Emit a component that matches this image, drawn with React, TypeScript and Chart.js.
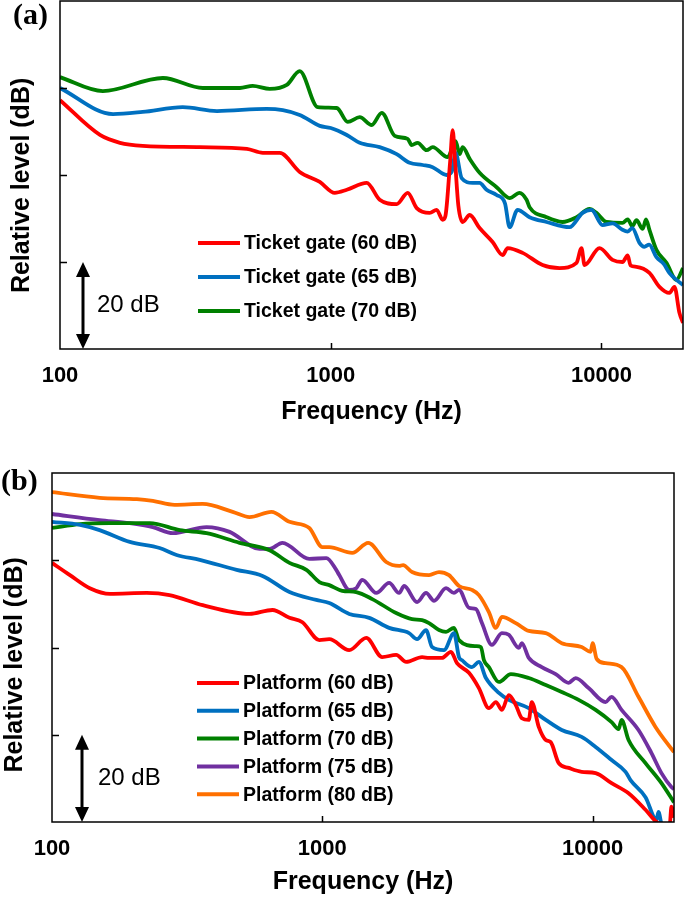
import React, { useEffect, useRef } from 'react';
import { Chart, registerables } from 'chart.js';

Chart.register(...registerables);

const FONT = '"Liberation Sans", Arial, Helvetica, sans-serif';

// ---------- axes ----------
const xTickValues = [100, 1000, 10000];
const xTickLabels = ['100', '1000', '10000'];
const yTickValues = [0, 20, 40, 60, 80];

// ---------- panel (a): ticket gate ----------
const gate60Freq = [100, 140.5, 166.5, 202, 329, 490, 561, 648, 768, 911, 1035, 1146, 1358, 1516, 1752, 1924, 2077, 2319, 2461, 2590, 2650, 2760, 2820, 2880, 2960, 3070, 3259, 3546, 3961, 4314, 4500, 5112, 6058, 6998, 8087, 8437, 8656, 9831, 10980, 11955, 12500, 12800, 13462, 15034, 16368, 17824, 18596, 19402, 20000];
const gate60Level = [57.2, 49.2, 47.4, 46.7, 46.4, 46.0, 45.1, 45.1, 40.7, 38.4, 35.9, 36.6, 38.2, 34.3, 33.3, 35.9, 32.4, 31.3, 32.0, 29.7, 30.5, 43.0, 50.3, 43.0, 33.0, 29.2, 30.8, 27.8, 24.6, 21.6, 23.2, 22.1, 19.3, 18.6, 19.8, 23.2, 19.3, 23.2, 20.5, 20.0, 21.5, 19.2, 18.9, 17.5, 14.3, 12.9, 14.3, 8.3, 6.0];

const gate65Freq = [100, 157, 202, 284, 380, 580, 665, 768, 911, 1000, 1146, 1279, 1516, 1752, 1956, 2185, 2379, 2679, 2796, 2892, 3044, 3342, 3546, 3763, 4098, 4400, 4577, 4898, 5425, 6266, 7618, 8510, 9186, 10085, 11000, 11955, 12500, 13000, 13808, 14400, 15000, 15955, 17000, 17800, 18913, 20000];
const gate65Level = [60.0, 54.0, 54.5, 55.6, 54.7, 55.2, 54.9, 53.8, 51.3, 50.8, 49.2, 47.4, 46.4, 44.8, 42.8, 42.3, 41.8, 40.0, 40.7, 45.1, 39.3, 38.2, 38.2, 36.6, 35.4, 33.5, 28.0, 32.0, 30.3, 29.2, 28.0, 31.3, 32.0, 28.5, 28.9, 27.4, 27.0, 27.8, 24.4, 23.5, 24.0, 21.1, 19.5, 17.5, 15.9, 14.7];

const gate70Freq = [100, 144, 240, 337, 462, 515, 595, 688, 768, 895, 1052, 1155, 1279, 1417, 1543, 1723, 1924, 1990, 2094, 2260, 2379, 2702, 2892, 2992, 3070, 3259, 3546, 4098, 4577, 4983, 5288, 5425, 6266, 7178, 8087, 9031, 9584, 10435, 11955, 12500, 13000, 13462, 14200, 14600, 15034, 15955, 17378, 18913, 20000];
const gate70Level = [62.5, 59.3, 62.3, 60.0, 60.0, 60.5, 59.8, 60.7, 63.9, 55.6, 55.4, 52.2, 53.3, 51.5, 54.3, 49.0, 48.3, 46.9, 47.4, 45.7, 46.4, 44.1, 47.8, 44.8, 46.4, 43.7, 40.5, 37.2, 34.7, 35.9, 34.3, 32.6, 30.3, 29.2, 30.3, 32.2, 31.3, 29.2, 29.0, 29.8, 28.2, 29.6, 27.6, 29.8, 27.4, 22.8, 19.8, 15.9, 18.6];

// ---------- panel (b): platform ----------
const plat60Freq = [100, 116.5, 138, 164, 224, 272, 361, 538, 654, 756, 844, 975, 1061, 1258, 1454, 1665, 1876, 2042, 2339, 2482, 2772, 2992, 3149, 3487, 3796, 4133, 4387, 4616, 4898, 5198, 5470, 5805, 5955, 6320, 6709, 6998, 7491, 8154, 9108, 10259, 11752, 13581, 15689, 17227, 18597, 19300, 19566, 20000];
const plat60Level = [59.4, 56.6, 53.6, 52.3, 52.5, 52.0, 49.7, 47.7, 48.6, 46.8, 45.8, 41.7, 41.9, 39.4, 42.2, 37.8, 38.3, 36.7, 37.8, 37.6, 37.6, 39.0, 36.4, 34.2, 30.7, 26.1, 27.5, 25.7, 29.1, 26.8, 23.8, 23.4, 27.5, 21.8, 18.8, 18.3, 13.5, 12.4, 11.5, 11.2, 8.9, 6.6, 2.8, 0.0, -1.0, -0.5, 3.5, 1.0];

const plat65Freq = [100, 127, 150, 194, 250, 289, 352, 482, 601, 756, 950, 1061, 1258, 1491, 1767, 2094, 2242, 2420, 2547, 2820, 3070, 3203, 3286, 3577, 3796, 4029, 4500, 4898, 5805, 6709, 7685, 9108, 10259, 11752, 13239, 13808, 15689, 17227, 17523, 17976, 18600];
const plat65Level = [68.8, 68.1, 66.9, 64.2, 62.8, 61.2, 60.1, 57.8, 56.4, 52.7, 50.9, 50.2, 47.7, 46.8, 44.5, 43.3, 41.9, 44.0, 40.1, 39.4, 43.3, 37.8, 37.1, 35.5, 36.7, 33.0, 29.6, 28.0, 26.1, 23.4, 21.1, 19.5, 17.2, 14.2, 11.5, 9.6, 5.7, 0.5, 2.3, -0.5, -3.0];

const plat70Freq = [100, 127, 164, 230, 297, 373, 494, 638, 756, 873, 975, 1061, 1185, 1335, 1530, 1876, 2148, 2339, 2482, 2702, 2869, 3070, 3203, 3701, 3862, 3961, 4133, 4500, 4983, 5805, 6709, 7685, 8878, 10259, 11752, 12473, 12794, 13581, 15689, 17976, 20000];
const plat70Level = [67.4, 68.3, 68.5, 68.5, 66.9, 66.2, 64.0, 62.3, 59.4, 57.8, 55.0, 54.3, 53.0, 52.7, 51.1, 47.9, 46.5, 46.3, 45.6, 44.0, 43.6, 44.5, 41.7, 40.3, 40.1, 37.1, 35.5, 32.1, 33.9, 33.0, 31.4, 29.8, 28.0, 25.7, 22.9, 21.3, 23.4, 18.8, 13.5, 8.9, 4.5];

const plat75Freq = [100, 150, 194, 236, 280, 373, 454, 586, 638, 712, 895, 1035, 1126, 1155, 1258, 1335, 1405, 1583, 1767, 1924, 2008, 2242, 2420, 2590, 2869, 3070, 3203, 3487, 3701, 3895, 4240, 4616, 4898, 5332, 5470, 5805, 6484, 7302, 8154, 8656, 9665, 11168, 11752, 12794, 14779, 16509, 17976, 19566, 20000];
const plat75Level = [70.6, 69.2, 68.5, 67.6, 66.2, 67.6, 66.5, 62.6, 62.6, 64.0, 60.3, 60.5, 57.8, 56.6, 53.2, 53.6, 55.5, 52.5, 54.8, 52.5, 54.1, 50.4, 52.5, 50.7, 53.6, 52.5, 53.2, 49.1, 48.8, 45.6, 40.6, 43.3, 42.9, 39.9, 41.0, 37.6, 35.5, 33.9, 31.9, 33.0, 30.7, 27.5, 28.7, 25.7, 21.1, 15.8, 11.2, 8.0, 7.5];

const plat80Freq = [100, 150, 206, 236, 284, 361, 466, 538, 648, 756, 895, 1000, 1061, 1290, 1478, 1723, 1924, 1990, 2148, 2482, 2702, 2942, 3203, 3577, 3796, 4133, 4387, 4616, 5198, 5805, 6709, 7685, 9108, 9831, 10000, 10347, 11168, 12794, 14779, 17082, 20000];
const plat80Level = [75.6, 74.3, 74.0, 73.6, 72.7, 72.9, 71.1, 69.9, 71.1, 68.8, 67.4, 63.0, 63.0, 61.7, 64.0, 59.6, 58.7, 58.9, 57.3, 56.6, 57.3, 56.6, 54.1, 53.2, 52.0, 48.1, 44.5, 47.0, 45.6, 43.8, 43.3, 41.0, 40.1, 39.0, 41.0, 37.4, 36.4, 35.5, 28.7, 21.8, 16.0];

const RED = '#ff0000';
const BLUE = '#0070c0';
const GREEN = '#008000';
const PURPLE = '#7030a0';
const ORANGE = '#ff7000';

type Series = { label: string; freq: number[]; level: number[]; color: string };

const seriesA: Series[] = [
  { label: 'Ticket gate (60 dB)', freq: gate60Freq, level: gate60Level, color: RED },
  { label: 'Ticket gate (65 dB)', freq: gate65Freq, level: gate65Level, color: BLUE },
  { label: 'Ticket gate (70 dB)', freq: gate70Freq, level: gate70Level, color: GREEN },
];
const seriesB: Series[] = [
  { label: 'Platform (60 dB)', freq: plat60Freq, level: plat60Level, color: RED },
  { label: 'Platform (65 dB)', freq: plat65Freq, level: plat65Level, color: BLUE },
  { label: 'Platform (70 dB)', freq: plat70Freq, level: plat70Level, color: GREEN },
  { label: 'Platform (75 dB)', freq: plat75Freq, level: plat75Level, color: PURPLE },
  { label: 'Platform (80 dB)', freq: plat80Freq, level: plat80Level, color: ORANGE },
];

const framePlugin = {
  id: 'frame',
  afterDatasetsDraw(chart: any, _args: any, opts: any) {
    const { ctx, chartArea: a, scales } = chart;
    const xs = scales.x;
    const ys = scales.y;
    ctx.save();
    // box
    ctx.strokeStyle = '#000';
    ctx.lineWidth = 1.5;
    ctx.strokeRect(a.left, a.top, a.right - a.left, a.bottom - a.top);
    // inner ticks
    ctx.beginPath();
    for (const v of yTickValues.slice(1, -1)) {
      const py = Math.round(ys.getPixelForValue(v)) + 0.5;
      ctx.moveTo(a.left, py);
      ctx.lineTo(a.left + 7, py);
    }
    for (const v of xTickValues.slice(1)) {
      const px = Math.round(xs.getPixelForValue(v)) + 0.5;
      ctx.moveTo(px, a.bottom);
      ctx.lineTo(px, a.bottom - 6);
    }
    ctx.stroke();

    // 20 dB arrow
    const ax = opts.arrowX;
    const yTop = ys.getPixelForValue(20);
    const yBot = ys.getPixelForValue(0);
    ctx.fillStyle = '#000';
    ctx.lineWidth = 3;
    ctx.beginPath();
    ctx.moveTo(ax, yTop + 10);
    ctx.lineTo(ax, yBot - 10);
    ctx.stroke();
    ctx.beginPath();
    ctx.moveTo(ax, yTop);
    ctx.lineTo(ax - 7, yTop + 15);
    ctx.lineTo(ax + 7, yTop + 15);
    ctx.closePath();
    ctx.fill();
    ctx.beginPath();
    ctx.moveTo(ax, yBot);
    ctx.lineTo(ax - 7, yBot - 15);
    ctx.lineTo(ax + 7, yBot - 15);
    ctx.closePath();
    ctx.fill();
    ctx.font = `24px ${FONT}`;
    ctx.textAlign = 'left';
    ctx.textBaseline = 'middle';
    ctx.fillText('20 dB', opts.labelX, ys.getPixelForValue(10));

    // legend
    const lg = opts.legend;
    ctx.font = `bold 19.5px ${FONT}`;
    chart.data.datasets.forEach((ds: any, i: number) => {
      const y = a.top + lg.y + i * lg.step;
      ctx.strokeStyle = ds.borderColor;
      ctx.lineWidth = 4;
      ctx.beginPath();
      ctx.moveTo(a.left + lg.x, y);
      ctx.lineTo(a.left + lg.x + 42, y);
      ctx.stroke();
      ctx.fillStyle = '#000';
      ctx.fillText(ds.label, a.left + lg.x + 46, y + 1);
    });
    ctx.restore();
  },
};

function makeConfig(p: {
  series: Series[];
  padTop: number;
  padRight: number;
  yWidth: number;
  xHeight: number;
  yTitle: string;
  yTitlePad: number;
  xTitlePad: number;
  legend: { x: number; y: number; step: number };
  arrowX: number;
  labelX: number;
}): any {
  return {
    type: 'line',
    data: {
      datasets: p.series.map((s) => ({
        label: s.label,
        data: s.freq.map((f, i) => ({ x: f, y: s.level[i] })),
        borderColor: s.color,
        backgroundColor: s.color,
        borderWidth: 3.8,
        pointRadius: 0,
        cubicInterpolationMode: 'monotone',
        fill: false,
      })),
    },
    options: {
      responsive: false,
      animation: false,
      devicePixelRatio: 1,
      layout: { padding: { top: p.padTop, right: p.padRight, left: 0, bottom: 0 } },
      plugins: {
        legend: { display: false },
        tooltip: { enabled: false },
        frame: { legend: p.legend, arrowX: p.arrowX, labelX: p.labelX },
      },
      scales: {
        x: {
          type: 'logarithmic',
          min: 100,
          max: 20000,
          afterBuildTicks: (s: any) => {
            s.ticks = xTickValues.map((v) => ({ value: v }));
          },
          afterFit: (s: any) => {
            s.height = p.xHeight;
          },
          ticks: {
            autoSkip: false,
            maxRotation: 0,
            padding: 14,
            color: '#000',
            font: { family: FONT, size: 22, weight: 'bold' },
            callback: (v: any) => {
              const i = xTickValues.indexOf(Number(v));
              return i >= 0 ? xTickLabels[i] : '';
            },
          },
          grid: { display: false, drawTicks: false },
          border: { display: false },
          title: {
            display: true,
            text: 'Frequency (Hz)',
            color: '#000',
            font: { family: FONT, size: 25, weight: 'bold' },
            padding: { top: 0, bottom: p.xTitlePad },
          },
        },
        y: {
          type: 'linear',
          min: 0,
          max: 80,
          afterBuildTicks: (s: any) => {
            s.ticks = yTickValues.map((v) => ({ value: v }));
          },
          afterFit: (s: any) => {
            s.width = p.yWidth;
          },
          ticks: { display: false },
          grid: { display: false, drawTicks: false },
          border: { display: false },
          title: {
            display: true,
            text: p.yTitle,
            color: '#000',
            font: { family: FONT, size: 25, weight: 'bold' },
            padding: { top: p.yTitlePad, bottom: 0 },
          },
        },
      },
    },
    plugins: [framePlugin],
  };
}

export default function App() {
  const refA = useRef<HTMLCanvasElement>(null);
  const refB = useRef<HTMLCanvasElement>(null);

  useEffect(() => {
    const chartA = new Chart(
      refA.current as HTMLCanvasElement,
      makeConfig({
        series: seriesA,
        padTop: 1,
        padRight: 2,
        yWidth: 60,
        xHeight: 91,
        yTitle: 'Relative level (dB)\u00a0\u00a0\u00a0',
        yTitlePad: 7,
        xTitlePad: 13,
        legend: { x: 138, y: 242, step: 34 },
        arrowX: 83,
        labelX: 97,
      })
    );
    const chartB = new Chart(
      refB.current as HTMLCanvasElement,
      makeConfig({
        series: seriesB,
        padTop: 13,
        padRight: 11,
        yWidth: 52,
        xHeight: 76,
        yTitle: 'Relative level (dB)\u00a0\u00a0\u00a0\u00a0\u00a0',
        yTitlePad: 0,
        xTitlePad: 1,
        legend: { x: 145, y: 210, step: 27.8 },
        arrowX: 82,
        labelX: 98,
      })
    );
    return () => {
      chartA.destroy();
      chartB.destroy();
    };
  }, []);

  const labelStyle: React.CSSProperties = {
    position: 'absolute',
    font: 'bold 30px "Liberation Serif", "Times New Roman", serif',
    color: '#000',
    lineHeight: '30px',
  };

  return (
    <div style={{ position: 'absolute', left: 0, top: 0, width: 685, height: 898, background: '#fff', overflow: 'hidden' }}>
      <canvas ref={refA} width={685} height={440} style={{ position: 'absolute', left: 0, top: 0, width: 685, height: 440 }} />
      <canvas ref={refB} width={685} height={438} style={{ position: 'absolute', left: 0, top: 460, width: 685, height: 438 }} />
      <div style={{ ...labelStyle, left: 13, top: -1 }}>(a)</div>
      <div style={{ ...labelStyle, left: 1, top: 465 }}>(b)</div>
    </div>
  );
}
